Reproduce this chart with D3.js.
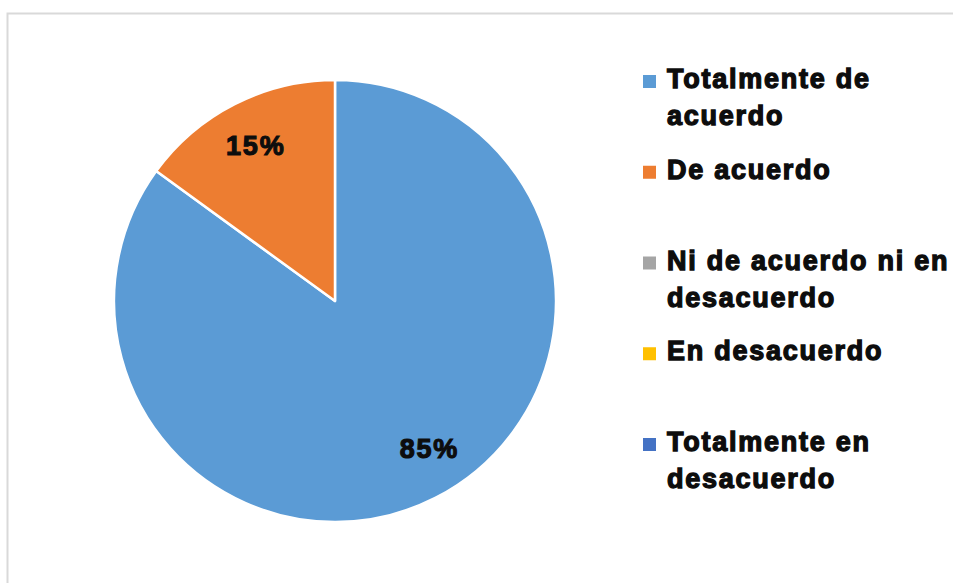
<!DOCTYPE html>
<html>
<head>
<meta charset="utf-8">
<script src="https://cdn.jsdelivr.net/npm/d3@7"></script>
<style>
body { margin: 0; background: #fff; }
svg { display: block; }
</style>
</head>
<body>
<svg width="953" height="583"></svg>
<script>
var categories = ["Totalmente de acuerdo", "De acuerdo", "Ni de acuerdo ni en desacuerdo", "En desacuerdo", "Totalmente en desacuerdo"]
var legendLines = [["Totalmente de", "acuerdo"], ["De acuerdo"], ["Ni de acuerdo ni en", "desacuerdo"], ["En desacuerdo"], ["Totalmente en", "desacuerdo"]]
var values = [85, 15, 0, 0, 0]
var colors = ["#5B9BD5", "#ED7D31", "#A5A5A5", "#FFC000", "#4472C4"]

var svg = d3.select("svg"),
	width = +svg.attr("width"),
	height = +svg.attr("height")

var fontFam = "'Liberation Sans', Arial, sans-serif"

// chart frame
svg.append("rect")
	.attr("x", 7.5).attr("y", 13.5)
	.attr("width", 980).attr("height", 620)
	.attr("fill", "#fff")
	.attr("stroke", "#d9d9d9")
	.attr("stroke-width", 2)

var cx = 335, cy = 301, r = 221

var data = categories.map(function (c, i) {
	return { name: c, value: values[i], color: colors[i], lines: legendLines[i] }
})

var pie = d3.pie().sort(null).value(function (d) { return d.value })
var arc = d3.arc().innerRadius(0).outerRadius(r)
var labelArc = d3.arc().innerRadius(r * 0.79).outerRadius(r * 0.79)

var g = svg.append("g").attr("transform", "translate(" + cx + "," + cy + ")")
var arcs = pie(data).filter(function (d) { return d.data.value > 0 })

g.selectAll("path")
	.data(arcs)
	.enter()
	.append("path")
	.attr("d", arc)
	.attr("fill", function (d) { return d.data.color })
	.attr("stroke", "#fff")
	.attr("stroke-width", 2.5)
	.attr("stroke-linejoin", "round")

// excel "best fit" nudges the big label a bit towards the right
g.selectAll("text.lbl")
	.data(arcs)
	.enter()
	.append("text")
	.attr("class", "lbl")
	.attr("transform", function (d) {
		var mid = (d.startAngle + d.endAngle) / 2
		if (d.data.value > 50) mid -= 0.1
		var c = labelArc.centroid({ startAngle: mid, endAngle: mid })
		return "translate(" + c[0] + "," + (c[1] + 10) + ")"
	})
	.attr("text-anchor", "middle")
	.attr("font-family", fontFam)
	.attr("font-weight", "bold")
	.attr("font-size", 27)
	.attr("letter-spacing", 1.8)
	.attr("fill", "#0d0d0d")
	.attr("stroke", "#0d0d0d")
	.attr("stroke-width", 1.1)
	.text(function (d) { return Math.round(d.data.value / d3.sum(values) * 100) + "%" })

// legend
var legY = d3.scaleLinear().domain([0, 4]).range([88, 451])
var leg = svg.append("g")
var items = leg.selectAll("g")
	.data(data)
	.enter()
	.append("g")
	.attr("transform", function (d, i) { return "translate(0," + legY(i) + ")" })

items.append("rect")
	.attr("x", 643).attr("y", -13)
	.attr("width", 13).attr("height", 13)
	.attr("fill", function (d) { return d.color })

items.each(function (d) {
	var t = d3.select(this).append("text")
		.attr("x", 667)
		.attr("font-family", fontFam)
		.attr("font-weight", "bold")
		.attr("font-size", 27)
		.attr("letter-spacing", 1.75)
		.attr("fill", "#0d0d0d")
		.attr("stroke", "#0d0d0d")
		.attr("stroke-width", 1.3)
	d.lines.forEach(function (ln, j) {
		t.append("tspan").attr("x", 667).attr("y", j * 37).text(ln)
	})
})
</script>
</body>
</html>
